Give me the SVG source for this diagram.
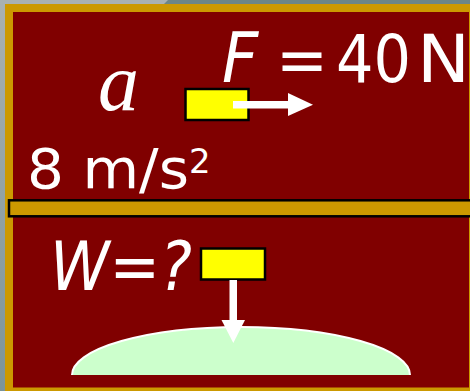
<svg xmlns="http://www.w3.org/2000/svg" width="470" height="391" viewBox="0 0 470 391">
  <defs>
    <linearGradient id="side" x1="0" y1="0" x2="0" y2="1">
      <stop offset="0" stop-color="#a9b1b1"/>
      <stop offset="1" stop-color="#7b949a"/>
    </linearGradient>
  </defs>
  <style>
    .block { fill: #ffff00; stroke: #000000; stroke-width: 2.5; }
    .lbl { fill: #ffffff; }
    .arrow { fill: #ffffff; }
    .cond { font-family: "DejaVu Sans Condensed", "DejaVu Sans", sans-serif; font-stretch: condensed; }
    .wide { font-family: "DejaVu Sans", Verdana, sans-serif; }
  </style>

  <g id="background">
    <rect x="0" y="0" width="470" height="391" fill="url(#side)"/>
    <polygon points="0,0 168,0 164,4 0,4" fill="#a9b1b1"/>
    <polygon points="168,0 470,0 470,4 164,4" fill="#6c8686"/>
    <rect x="5" y="4" width="465" height="387" fill="#cc9900"/>
    <rect x="13" y="12" width="456" height="375.5" fill="#800000"/>
  </g>

  <g id="ground">
    <path d="M72,375 A169,48 0 0 1 410,375 Z" fill="#ccffcc"/>
    <path d="M72,375 A169,48 0 0 1 410,375" fill="none" stroke="#ffffff" stroke-width="2"/>
  </g>

  <g id="bar">
    <rect x="9" y="200.3" width="470" height="16" fill="#cc9900" stroke="#000000" stroke-width="2.5"/>
  </g>

  <g id="block-top">
    <rect class="block" x="185.5" y="89" width="63" height="31"/>
  </g>

  <g id="block-bottom">
    <rect class="block" x="201" y="248.5" width="64" height="31"/>
  </g>

  <g id="arrows">
    <g id="force-arrow">
      <rect class="arrow" x="233" y="101" width="57" height="7.5"/>
      <polygon class="arrow" points="288,93 313,104.7 288,116"/>
    </g>
    <g id="weight-arrow">
      <rect class="arrow" x="229.5" y="280" width="7.5" height="42"/>
      <polygon class="arrow" points="221.5,320 245,320 233.3,343"/>
    </g>
  </g>

  <g id="label-a">
    <text class="lbl" x="98" y="110" font-family="'Liberation Serif', 'Times New Roman', serif" font-style="italic" font-size="82">a</text>
  </g>

  <g id="label-accel">
    <text class="lbl wide" x="27" y="188" font-size="55" textLength="162" lengthAdjust="spacingAndGlyphs">8 m/s</text>
    <text class="lbl wide" x="189" y="173" font-size="34">2</text>
  </g>

  <g id="label-force">
    <text class="lbl cond" x="222" y="82" font-size="70" font-style="italic">F</text>
    <text class="lbl cond" x="276" y="82" font-size="66" font-style="italic" textLength="52" lengthAdjust="spacingAndGlyphs">=</text>
    <text class="lbl cond" x="336" y="82" font-size="65" textLength="75" lengthAdjust="spacingAndGlyphs">40</text>
    <text class="lbl wide" x="417" y="82" font-size="65" textLength="53" lengthAdjust="spacingAndGlyphs">N</text>
  </g>

  <g id="label-weight">
    <text class="lbl cond" x="50" y="290" font-size="67" font-style="italic">W=?</text>
  </g>
</svg>
